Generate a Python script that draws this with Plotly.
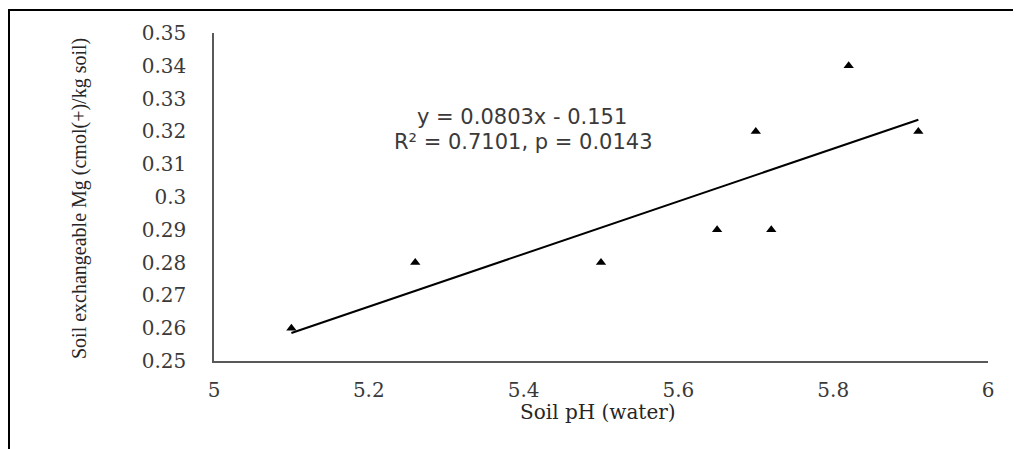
import plotly.graph_objects as go

# Data
ph = [5.10, 5.26, 5.50, 5.65, 5.70, 5.72, 5.82, 5.91]
mg = [0.26, 0.28, 0.28, 0.29, 0.32, 0.29, 0.34, 0.32]
slope = 0.0803
intercept = -0.151
eq_line1 = "y = 0.0803x - 0.151"
eq_line2 = "R² = 0.7101, p = 0.0143"
x_ticks = [5, 5.2, 5.4, 5.6, 5.8, 6]
x_tick_text = ["5", "5.2", "5.4", "5.6", "5.8", "6"]
y_ticks = [0.25, 0.26, 0.27, 0.28, 0.29, 0.30, 0.31, 0.32, 0.33, 0.34, 0.35]
y_tick_text = ["0.25", "0.26", "0.27", "0.28", "0.29", "0.3", "0.31", "0.32", "0.33", "0.34", "0.35"]

W, H = 1016, 449
L, R, T, B = 214, 28, 33, 88
pw, ph_ = W - L - R, H - T - B

def px_x(p):
    return (p - L) / pw

def px_y(p):
    return (H - B - p) / ph_

fit_x = [min(ph), max(ph)]
fit_y = [slope * v + intercept for v in fit_x]

fig = go.Figure()
fig.add_trace(go.Scatter(x=fit_x, y=fit_y, mode="lines",
                         line=dict(color="black", width=2), showlegend=False))
fig.add_trace(go.Scatter(x=ph, y=mg, mode="markers",
                         marker=dict(symbol="triangle-up", size=9, color="black"),
                         showlegend=False))

tickfont = dict(family="DejaVu Serif", size=20, color="#3a3a3a")
fig.update_xaxes(range=[5, 6], tickvals=x_ticks, ticktext=x_tick_text,
                 showgrid=False, zeroline=False, showline=True, linecolor="#595959",
                 linewidth=1.5, ticks="outside", ticklen=10, tickcolor="rgba(0,0,0,0)",
                 tickfont=tickfont)
fig.update_yaxes(range=[0.25, 0.35], tickvals=y_ticks, ticktext=y_tick_text,
                 showgrid=False, zeroline=False, showline=True, linecolor="#595959",
                 linewidth=1.5, ticks="outside", ticklen=22, tickcolor="rgba(0,0,0,0)",
                 tickfont=tickfont)

fig.add_annotation(text="Soil exchangeable Mg (cmol(+)/kg soil)", textangle=-90,
                   xref="paper", yref="paper", x=px_x(79), y=px_y(199),
                   showarrow=False, xanchor="center", yanchor="middle",
                   font=dict(family="Liberation Serif", size=20, color="#262626"))
fig.add_annotation(text="Soil pH (water)", xref="paper", yref="paper",
                   x=px_x(598), y=px_y(412), showarrow=False,
                   xanchor="center", yanchor="middle",
                   font=dict(family="DejaVu Serif", size=20, color="#262626"))
fig.add_annotation(text=eq_line1, xref="paper", yref="paper",
                   x=px_x(522), y=px_y(117), showarrow=False,
                   xanchor="center", yanchor="middle",
                   font=dict(family="DejaVu Sans", size=21, color="#3a3a3a"))
fig.add_annotation(text=eq_line2, xref="paper", yref="paper",
                   x=px_x(523), y=px_y(142), showarrow=False,
                   xanchor="center", yanchor="middle",
                   font=dict(family="DejaVu Sans", size=21, color="#3a3a3a"))

# outer frame lines (top and left)
fig.add_shape(type="line", xref="paper", yref="paper",
              x0=px_x(8), x1=px_x(1013), y0=px_y(10), y1=px_y(10),
              line=dict(color="black", width=2))
fig.add_shape(type="line", xref="paper", yref="paper",
              x0=px_x(9), x1=px_x(9), y0=px_y(10), y1=px_y(452),
              line=dict(color="black", width=2))

fig.update_layout(width=W, height=H, margin=dict(l=L, r=R, t=T, b=B),
                  plot_bgcolor="white", paper_bgcolor="white", showlegend=False)

fig.write_html("out.html")
